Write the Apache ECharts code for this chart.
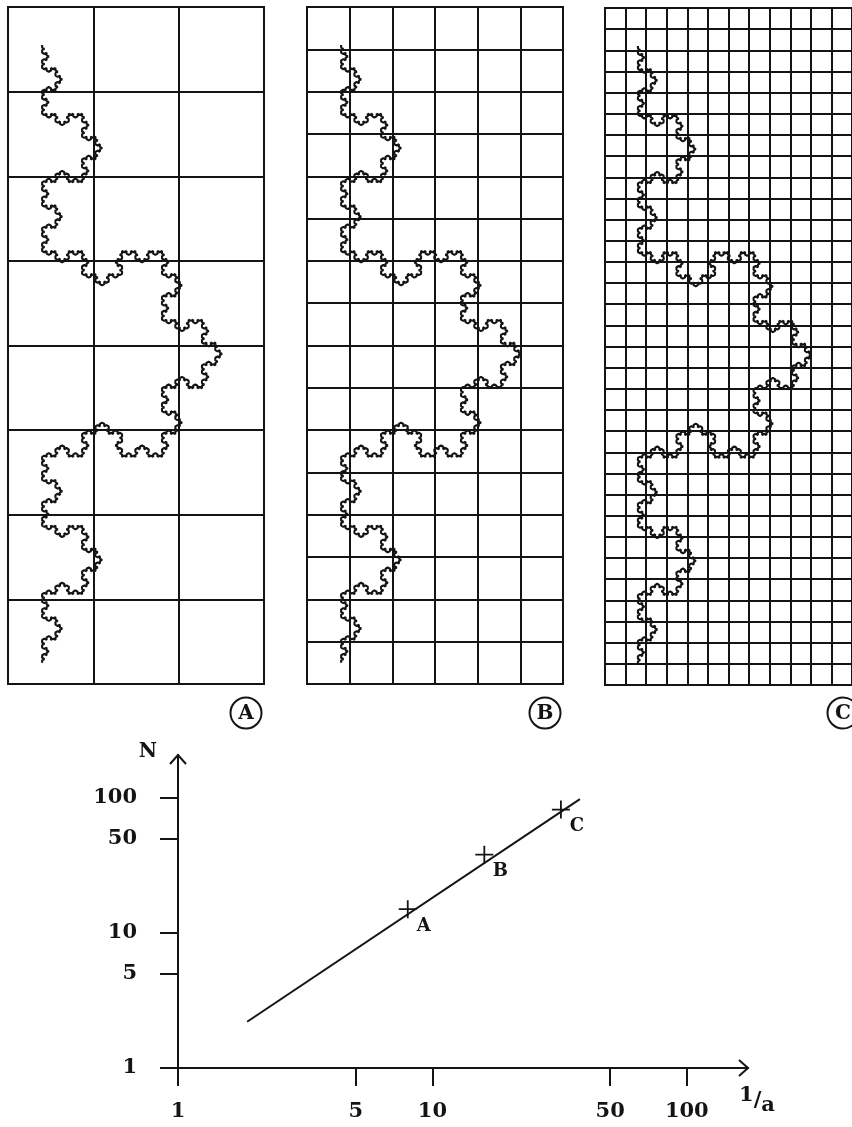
<!DOCTYPE html>
<html>
<head>
<meta charset="utf-8">
<script src="https://cdn.jsdelivr.net/npm/echarts@6/dist/echarts.min.js"></script>
<style>
  html, body { margin: 0; padding: 0; background: #ffffff; }
  #chart { width: 852px; height: 1127px; }
</style>
</head>
<body>
<div id="chart"></div>
<script>
// Box counting on the Koch curve: the same curve covered by three grids of
// shrinking cell size (A, B, C), then the box count N against 1/a on log-log axes.

// ---- panels ----
const panelNames = ['A', 'B', 'C'];
const panelSplitsPerCell = [1, 2, 4];      // grid lines per coarse cell
const panelCellsX = 3;
const panelCellsY = 8;

// ---- Koch curve (coarse-cell units, y measured downward) ----
const kochLevel = 5;
const kochStart = [0.40, 0.45];
const kochEnd = [0.40, 7.75];

// ---- log-log plot ----
const pointNames = ['A', 'B', 'C'];
const inverseSize = [8, 16, 32];           // 1/a
const boxCount = [15, 38, 82];             // N
const fitLineX = [1.87, 38];
const fitLineN = [2.2, 98];
const xTickValues = [1, 5, 10, 50, 100];
const yTickValues = [1, 5, 10, 50, 100];
const xAxisMax = 174;
const yAxisMax = 208;

const ink = '#141414';
const serif = 'DejaVu Serif';

function kochPoints(p, q, level) {
  if (level === 0) return [p];
  const dx = (q[0] - p[0]) / 3, dy = (q[1] - p[1]) / 3;
  const a = [p[0] + dx, p[1] + dy];
  const b = [p[0] + 2 * dx, p[1] + 2 * dy];
  const c = Math.cos(Math.PI / 3), s = Math.sin(Math.PI / 3);
  const apex = [a[0] + c * dx + s * dy, a[1] - s * dx + c * dy];
  return [].concat(
    kochPoints(p, a, level - 1),
    kochPoints(a, apex, level - 1),
    kochPoints(apex, b, level - 1),
    kochPoints(b, q, level - 1)
  );
}
const kochCurve = kochPoints(kochStart, kochEnd, kochLevel).concat([kochEnd]);

const panelBoxes = [
  { left: 8, top: 7 },
  { left: 307, top: 7 },
  { left: 605, top: 8 }
];
const panelW = 256, panelH = 677;
const plotBox = { left: 178, top: 755, width: 570, height: 313 };

const grids = panelBoxes.map(b => ({
  left: b.left, top: b.top, width: panelW, height: panelH,
  show: true, borderColor: ink, borderWidth: 2, backgroundColor: 'transparent'
}));
grids.push({ left: plotBox.left, top: plotBox.top, width: plotBox.width, height: plotBox.height });

const xAxes = panelNames.map((n, i) => ({
  gridIndex: i, type: 'value', min: 0, max: panelCellsX,
  interval: 1 / panelSplitsPerCell[i],
  axisLine: { show: false }, axisTick: { show: false }, axisLabel: { show: false },
  splitLine: { show: true, lineStyle: { color: ink, width: 2 } }
}));
const yAxes = panelNames.map((n, i) => ({
  gridIndex: i, type: 'value', min: 0, max: panelCellsY, inverse: true,
  interval: 1 / panelSplitsPerCell[i],
  axisLine: { show: false }, axisTick: { show: false }, axisLabel: { show: false },
  splitLine: { show: true, lineStyle: { color: ink, width: 2 } }
}));

const tickLabelStyle = { color: ink, fontFamily: serif, fontSize: 21, fontWeight: 'bold' };

xAxes.push({
  gridIndex: 3, type: 'log', logBase: 10, min: 1, max: xAxisMax,
  axisLine: { show: true, onZero: false, lineStyle: { color: ink, width: 2 } },
  axisTick: { show: true, length: 18, lineStyle: { color: ink, width: 2 }, customValues: xTickValues },
  axisLabel: Object.assign({ margin: 33, customValues: xTickValues }, tickLabelStyle),
  splitLine: { show: false }, minorTick: { show: false }
});
yAxes.push({
  gridIndex: 3, type: 'log', logBase: 10, min: 1, max: yAxisMax,
  axisLine: { show: true, onZero: false, lineStyle: { color: ink, width: 2 } },
  axisTick: { show: true, length: 18, lineStyle: { color: ink, width: 2 }, customValues: yTickValues },
  axisLabel: Object.assign({ margin: 41, customValues: yTickValues }, tickLabelStyle),
  splitLine: { show: false }, minorTick: { show: false }
});

const series = panelNames.map((n, i) => ({
  type: 'line', name: 'Koch ' + n, xAxisIndex: i, yAxisIndex: i,
  data: kochCurve, showSymbol: false, symbol: 'none', silent: true,
  lineStyle: { color: ink, width: 2.1 }
}));

series.push({
  type: 'line', name: 'fit', xAxisIndex: 3, yAxisIndex: 3,
  data: fitLineX.map((x, i) => [x, fitLineN[i]]),
  showSymbol: false, symbol: 'none', silent: true,
  lineStyle: { color: ink, width: 2 }
});
series.push({
  type: 'scatter', name: 'N', xAxisIndex: 3, yAxisIndex: 3,
  data: inverseSize.map((x, i) => ({ name: pointNames[i], value: [x, boxCount[i]] })),
  symbol: 'path://M0,9H20V11H0Z M9,0H11V20H9Z',
  symbolSize: 18, itemStyle: { color: ink, opacity: 1 },
  label: {
    show: true, position: 'inside', offset: [16, 17], formatter: '{b}',
    color: ink, opacity: 1, fontFamily: serif, fontSize: 18, fontWeight: 'bold'
  }
});

// circled panel letters, axis arrows and axis names
const graphics = [];
panelBoxes.forEach((b, i) => {
  const cx = b.left + panelW - 18, cy = 713;
  graphics.push({ type: 'circle', shape: { cx: cx, cy: cy, r: 15.5 },
    style: { fill: 'none', stroke: ink, lineWidth: 2 } });
  graphics.push({ type: 'text', x: cx, y: cy + 1,
    style: { text: panelNames[i], fill: ink, font: 'bold 20px "DejaVu Serif"', align: 'center', verticalAlign: 'middle' } });
});
const xEnd = [plotBox.left + plotBox.width, plotBox.top + plotBox.height];
const yEnd = [plotBox.left, plotBox.top];
graphics.push({ type: 'polyline', shape: { points: [[xEnd[0] - 9, xEnd[1] - 8], xEnd, [xEnd[0] - 9, xEnd[1] + 8]] },
  style: { stroke: ink, lineWidth: 2, fill: 'none' } });
graphics.push({ type: 'polyline', shape: { points: [[yEnd[0] - 8, yEnd[1] + 9], yEnd, [yEnd[0] + 8, yEnd[1] + 9]] },
  style: { stroke: ink, lineWidth: 2, fill: 'none' } });
graphics.push({ type: 'text', x: 148, y: 752,
  style: { text: 'N', fill: ink, font: 'bold 20px "DejaVu Serif"', align: 'center', verticalAlign: 'middle' } });
graphics.push({ type: 'text', x: 757, y: 1101,
  style: {
    text: '{u|1}/{d|a}', fill: ink, font: 'bold 21px "DejaVu Serif"', align: 'center', verticalAlign: 'middle',
    rich: {
      u: { fill: ink, font: 'bold 21px "DejaVu Serif"', padding: [0, 0, 10, 0] },
      d: { fill: ink, font: 'bold 21px "DejaVu Serif"', padding: [10, 0, 0, 0] }
    }
  } });

const chart = echarts.init(document.getElementById('chart'), null, { renderer: 'canvas' });
chart.setOption({
  animation: false,
  backgroundColor: '#ffffff',
  grid: grids,
  xAxis: xAxes,
  yAxis: yAxes,
  series: series,
  graphic: graphics
});
</script>
</body>
</html>
